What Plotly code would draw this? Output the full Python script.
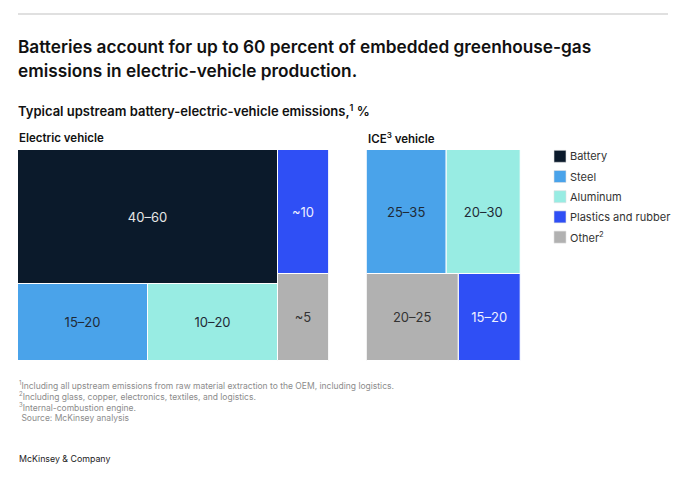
import plotly.graph_objects as go

# ---- data ----
materials = ["Battery", "Steel", "Aluminum", "Plastics and rubber", "Other"]
legend_names = ["Battery", "Steel", "Aluminum", "Plastics and rubber", "Other<sup>2</sup>"]
ev_labels = {"Battery": "40–60", "Steel": "15–20", "Aluminum": "10–20",
             "Plastics and rubber": "~10", "Other": "~5"}
ice_labels = {"Steel": "25–35", "Aluminum": "20–30",
              "Plastics and rubber": "15–20", "Other": "20–25"}

# ---- styling / layout (cell rectangles in % of each panel: x0, x1, y0, y1 from top-left) ----
colors = {"Battery": "#0b1a2b", "Steel": "#4aa3ea", "Aluminum": "#98ece3",
          "Plastics and rubber": "#2f4ff5", "Other": "#b1b1b1"}
text_colors = {"Battery": "#e6e6e6", "Steel": "#1f2a36", "Aluminum": "#1f2a36",
               "Plastics and rubber": "#eef0ff", "Other": "#333333"}
ev_cells = {"Battery": (0, 83.75, 0, 63.3), "Plastics and rubber": (83.75, 100, 0, 58.6),
            "Steel": (0, 41.95, 63.3, 100), "Aluminum": (41.95, 83.75, 63.3, 100),
            "Other": (83.75, 100, 58.6, 100)}
ice_cells = {"Steel": (0, 52.4, 0, 58.8), "Aluminum": (52.4, 100, 0, 58.8),
             "Other": (0, 60.0, 58.8, 100), "Plastics and rubber": (60.0, 100, 58.8, 100)}

# the page body has an 8px margin; figure sized so it fits the 700x477 window
OFF = 8
W, H = 700 - OFF, 477 - OFF
FONT = "Inter"

fig = go.Figure()

def add_cell(mat, rect, label, xa, ya):
    x0, x1, y0, y1 = rect
    fig.add_trace(go.Bar(
        x=[(x0 + x1) / 2], width=[x1 - x0], base=[y0], y=[y1 - y0],
        text=[label], textposition="inside", insidetextanchor="middle",
        textangle=0, constraintext="none",
        textfont=dict(size=13, color=text_colors[mat], family=FONT),
        marker=dict(color=colors[mat], line=dict(color="white", width=1)),
        name=legend_names[materials.index(mat)], legendgroup=mat, showlegend=False,
        xaxis=xa, yaxis=ya, hoverinfo="skip",
    ))

for m in materials:
    add_cell(m, ev_cells[m], ev_labels[m], "x", "y")
for m in materials:
    if m in ice_cells:
        add_cell(m, ice_cells[m], ice_labels[m], "x2", "y2")

def px(x):
    return (x - OFF) / W

def py(y):
    return 1 - (y - OFF) / H

ydom = [py(361), py(150)]
axis_common = dict(visible=False, fixedrange=True)
fig.update_layout(
    width=W, height=H, margin=dict(l=0, r=0, t=0, b=0),
    paper_bgcolor="white", plot_bgcolor="white",
    barmode="overlay", bargap=0, showlegend=False,
    xaxis=dict(domain=[px(18), px(328.7)], range=[0, 100], **axis_common),
    yaxis=dict(domain=ydom, range=[100, 0], **axis_common),
    xaxis2=dict(domain=[px(366.7), px(520.3)], range=[0, 100], anchor="y2", **axis_common),
    yaxis2=dict(domain=ydom, range=[100, 0], anchor="x2", **axis_common),
    font=dict(family=FONT),
)

fig.add_shape(type="line", xref="paper", yref="paper", x0=px(18), x1=px(668),
              y0=py(14), y1=py(14), line=dict(color="#d6d6d6", width=1.5))

def txt(s, x, y, size, color="#111111", weight=400):
    fig.add_annotation(text=s, x=px(x), y=py(y), xref="paper", yref="paper",
                       xanchor="left", yanchor="middle", showarrow=False,
                       font=dict(size=size, color=color, family=FONT, weight=weight),
                       align="left", xshift=-1)

# legend (squares + labels)
for i, (m, name) in enumerate(zip(materials, legend_names)):
    cy = 156.3 + i * 20.2
    fig.add_shape(type="rect", xref="paper", yref="paper",
                  x0=px(554), x1=px(566), y0=py(cy + 6), y1=py(cy - 6),
                  fillcolor=colors[m], line=dict(color="#e0e0e0", width=0.6))
    txt(name, 569, cy, 11, "#333333")

txt("Batteries account for up to 60 percent of embedded greenhouse-gas", 17, 47, 17.25, "#111111", 600)
txt("emissions in electric-vehicle production.", 17, 70, 17.25, "#111111", 600)
txt("Typical upstream battery-electric-vehicle emissions,<sup>1</sup> %", 17, 111, 13, "#111111", 600)
txt("Electric vehicle", 18, 138, 11.5, "#111111", 600)
txt("ICE<sup>3</sup> vehicle", 367, 138, 11.5, "#111111", 600)

foot_color = "#8c8c8c"
txt("<sup>1</sup>Including all upstream emissions from raw material extraction to the OEM, including logistics.", 18, 385, 8.5, foot_color)
txt("<sup>2</sup>Including glass, copper, electronics, textiles, and logistics.", 18, 396, 8.5, foot_color)
txt("<sup>3</sup>Internal-combustion engine.", 18, 407, 8.5, foot_color)
txt(" Source: McKinsey analysis", 18, 418, 8.5, foot_color)
txt("McKinsey &amp; Company", 18, 458, 8.8, "#222222")

fig.write_html("out.html")
